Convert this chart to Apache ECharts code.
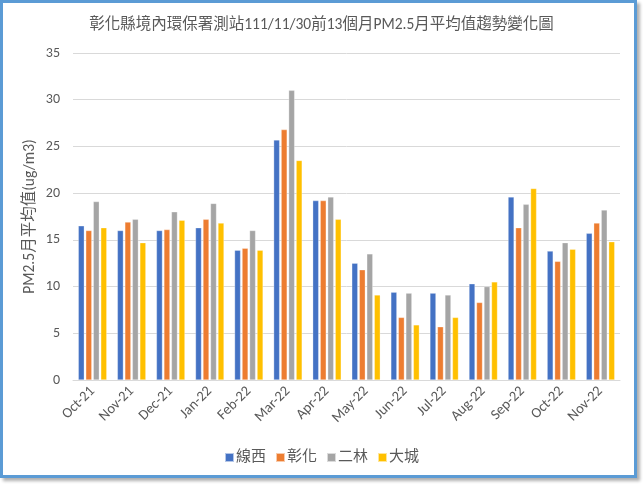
<!DOCTYPE html>
<html><head><meta charset="utf-8">
<script src="https://cdn.jsdelivr.net/npm/echarts@6/dist/echarts.min.js"></script>
<style>
html,body{margin:0;padding:0;background:#fff;width:643px;height:484px;overflow:hidden;}
#frame{position:absolute;left:0;top:0;width:631px;height:472px;border:3px solid #5b9bd5;box-shadow:3px 3px 3px #b0b0b0;background:#fff;}
#c{position:absolute;left:0;top:0;width:643px;height:484px;}
</style></head>
<body>
<div id="frame"></div>
<div id="c"></div>
<script>
var categories = ['Oct-21','Nov-21','Dec-21','Jan-22','Feb-22','Mar-22','Apr-22','May-22','Jun-22','Jul-22','Aug-22','Sep-22','Oct-22','Nov-22'];
var xianxi   = [16.5, 16.0, 16.0, 16.3, 13.9, 25.7, 19.2, 12.5, 9.4, 9.3, 10.3, 19.6, 13.8, 15.7];
var changhua = [16.0, 16.9, 16.1, 17.2, 14.1, 26.8, 19.2, 11.8, 6.7, 5.7, 8.3, 16.3, 12.7, 16.8];
var erlin    = [19.1, 17.2, 18.0, 18.9, 16.0, 31.0, 19.6, 13.5, 9.3, 9.1, 10.0, 18.8, 14.7, 18.2];
var dacheng  = [16.3, 14.7, 17.1, 16.8, 13.9, 23.5, 17.2, 9.1, 5.9, 6.7, 10.5, 20.5, 14.0, 14.8];
var seriesNames = ['線西','彰化','二林','大城'];
var colors = ['#4472c4','#ed7d31','#a5a5a5','#ffc000'];
var title = '彰化縣境內環保署測站111/11/30前13個月PM2.5月平均值趨勢變化圖';
var yName = 'PM2.5月平均值(ug/m3)';

var chart = echarts.init(document.getElementById('c'));
var dataSets = [xianxi, changhua, erlin, dacheng];
var font = 'Calibri, "Noto Sans CJK TC", "Liberation Sans", sans-serif';
chart.setOption({
  animation:false,
  color: colors,
  textStyle:{fontFamily:font},
  title:{text:title,left:'center',top:12,textStyle:{fontSize:15.5,fontWeight:'normal',color:'#595959',fontFamily:font}},
  legend:{bottom:14,left:'center',itemWidth:9,itemHeight:9,itemGap:9,icon:'rect',
    textStyle:{fontSize:15,color:'#595959',padding:[0,0,0,-3]},
    data:seriesNames},
  grid:{left:73,right:23,top:53,bottom:104},
  xAxis:{type:'category',data:categories,
    axisLine:{lineStyle:{color:'#d9d9d9',width:1}},
    axisTick:{show:false},
    axisLabel:{rotate:45,color:'#595959',fontSize:14.5,interval:0,margin:9}},
  yAxis:{type:'value',min:0,max:35,interval:5,
    name:yName,nameLocation:'middle',nameGap:35,nameRotate:90,nameMoveOverlap:false,
    nameTextStyle:{fontSize:15.5,color:'#595959'},
    axisLine:{show:false},axisTick:{show:false},
    axisLabel:{color:'#595959',fontSize:14,margin:13},
    splitLine:{lineStyle:{color:'#d9d9d9',width:1}}},
  series: seriesNames.map(function(n,i){
    return {name:n,type:'bar',data:dataSets[i],barWidth:6,barGap:'25%',barCategoryGap:'30%',
      itemStyle:{borderColor:'rgba(255,255,255,0.6)',borderWidth:0.5}};
  })
});
</script>
</body></html>
